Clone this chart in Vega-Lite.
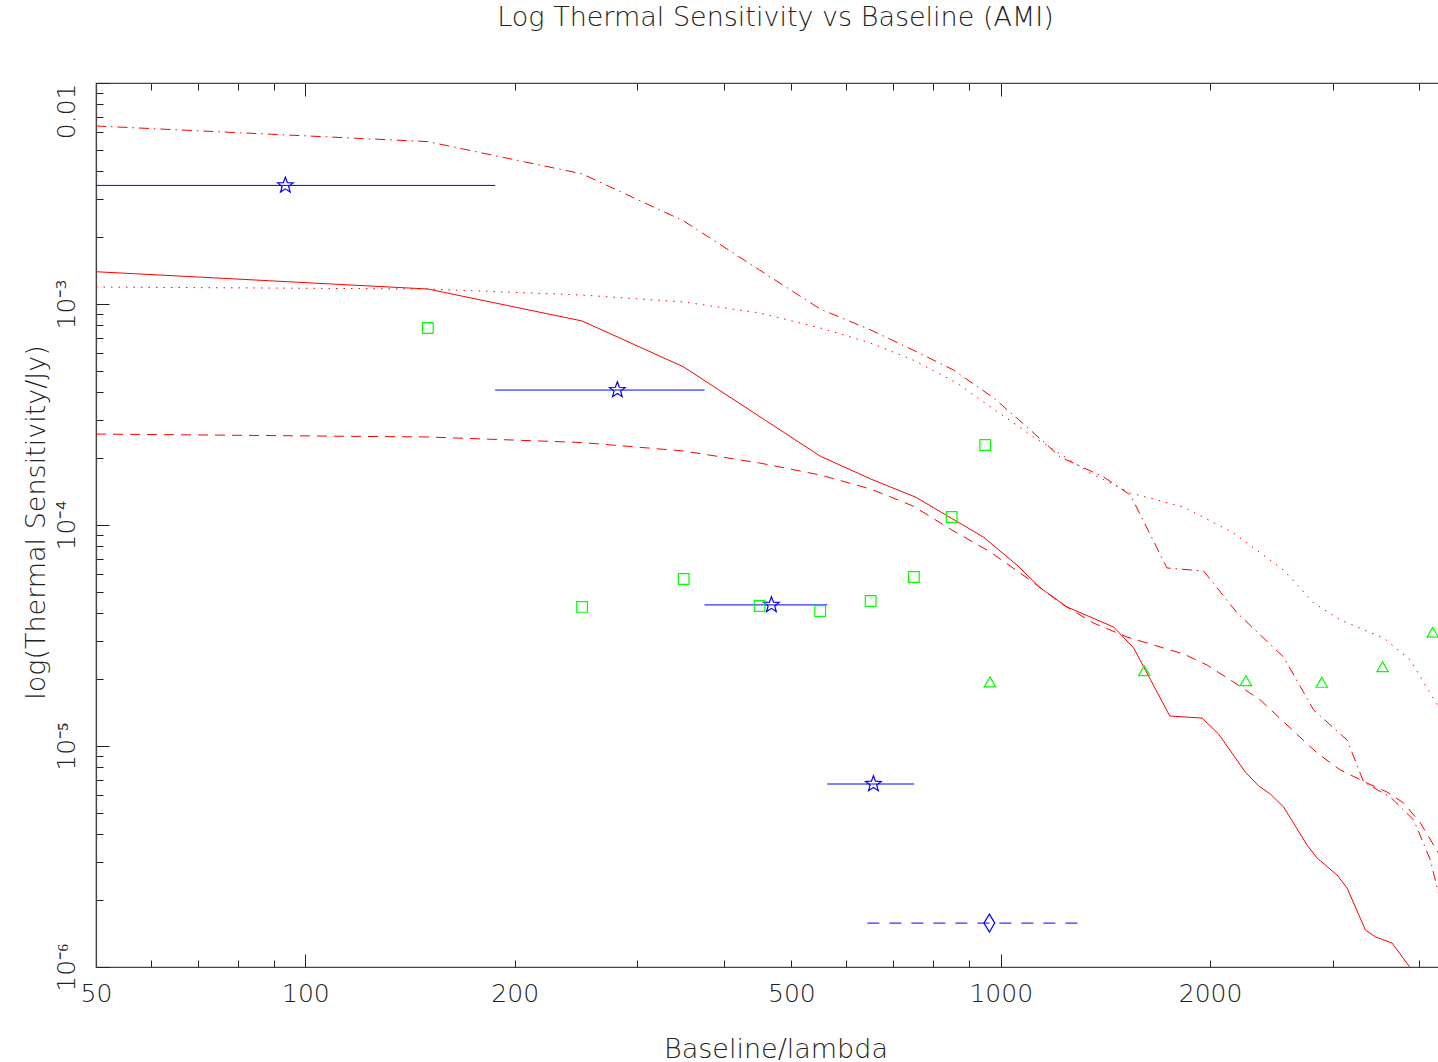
{
  "$schema": "https://vega.github.io/schema/vega-lite/v6.json",
  "autosize": {"type": "none"},
  "width": 1359,
  "height": 884,
  "padding": {"left": 96, "top": 83, "right": 0, "bottom": 95},
  "background": "white",
  "title": {
    "text": "Log Thermal Sensitivity vs Baseline (AMI)",
    "anchor": "middle",
    "frame": "group",
    "offset": 30,
    "baseline": "alphabetic",
    "font": "DejaVu Sans",
    "fontSize": 27,
    "fontWeight": 200,
    "color": "#222222"
  },
  "config": {
    "view": {"stroke": "#444444", "strokeWidth": 1.2},
    "axis": {
      "grid": false,
      "domainColor": "#444444",
      "domainWidth": 1.2,
      "tickColor": "#222222",
      "tickWidth": 1,
      "labelFont": "DejaVu Sans",
      "labelFontWeight": 200,
      "labelFontSize": 25,
      "labelColor": "#222222",
      "labelOverlap": false,
      "labelFlush": false,
      "titleFont": "DejaVu Sans",
      "titleFontWeight": 200,
      "titleFontSize": 27,
      "titleColor": "#222222"
    }
  },
  "datasets": {
    "curves": [
      {"model": "solid", "baseline": 50, "sens": 1.40e-3},
      {"model": "solid", "baseline": 150, "sens": 1.169e-3},
      {"model": "solid", "baseline": 250, "sens": 8.38e-4},
      {"model": "solid", "baseline": 350, "sens": 5.19e-4},
      {"model": "solid", "baseline": 550, "sens": 2.05e-4},
      {"model": "solid", "baseline": 650, "sens": 1.615e-4},
      {"model": "solid", "baseline": 754, "sens": 1.338e-4},
      {"model": "solid", "baseline": 944, "sens": 8.82e-5},
      {"model": "solid", "baseline": 1055, "sens": 6.59e-5},
      {"model": "solid", "baseline": 1140, "sens": 5.19e-5},
      {"model": "solid", "baseline": 1245, "sens": 4.26e-5},
      {"model": "solid", "baseline": 1453, "sens": 3.455e-5},
      {"model": "solid", "baseline": 1553, "sens": 2.776e-5},
      {"model": "solid", "baseline": 1750, "sens": 1.367e-5},
      {"model": "solid", "baseline": 1948, "sens": 1.338e-5},
      {"model": "solid", "baseline": 2057, "sens": 1.133e-5},
      {"model": "solid", "baseline": 2247, "sens": 7.63e-6},
      {"model": "solid", "baseline": 2349, "sens": 6.59e-6},
      {"model": "solid", "baseline": 2442, "sens": 6.06e-6},
      {"model": "solid", "baseline": 2551, "sens": 5.30e-6},
      {"model": "solid", "baseline": 2757, "sens": 3.565e-6},
      {"model": "solid", "baseline": 2850, "sens": 3.113e-6},
      {"model": "solid", "baseline": 3045, "sens": 2.608e-6},
      {"model": "solid", "baseline": 3148, "sens": 2.278e-6},
      {"model": "solid", "baseline": 3345, "sens": 1.47e-6},
      {"model": "solid", "baseline": 3458, "sens": 1.367e-6},
      {"model": "solid", "baseline": 3653, "sens": 1.284e-6},
      {"model": "solid", "baseline": 3882, "sens": 9.9e-7},
      {"model": "solid", "baseline": 3987, "sens": 7.47e-7},

      {"model": "dashed", "baseline": 50, "sens": 2.58e-4},
      {"model": "dashed", "baseline": 150, "sens": 2.502e-4},
      {"model": "dashed", "baseline": 250, "sens": 2.362e-4},
      {"model": "dashed", "baseline": 350, "sens": 2.162e-4},
      {"model": "dashed", "baseline": 450, "sens": 1.908e-4},
      {"model": "dashed", "baseline": 550, "sens": 1.684e-4},
      {"model": "dashed", "baseline": 650, "sens": 1.455e-4},
      {"model": "dashed", "baseline": 748, "sens": 1.219e-4},
      {"model": "dashed", "baseline": 846, "sens": 9.59e-5},
      {"model": "dashed", "baseline": 966, "sens": 7.55e-5},
      {"model": "dashed", "baseline": 1091, "sens": 5.76e-5},
      {"model": "dashed", "baseline": 1231, "sens": 4.345e-5},
      {"model": "dashed", "baseline": 1360, "sens": 3.60e-5},
      {"model": "dashed", "baseline": 1519, "sens": 3.113e-5},
      {"model": "dashed", "baseline": 1832, "sens": 2.608e-5},
      {"model": "dashed", "baseline": 1980, "sens": 2.325e-5},
      {"model": "dashed", "baseline": 2161, "sens": 1.948e-5},
      {"model": "dashed", "baseline": 2362, "sens": 1.615e-5},
      {"model": "dashed", "baseline": 2580, "sens": 1.245e-5},
      {"model": "dashed", "baseline": 2850, "sens": 9.30e-6},
      {"model": "dashed", "baseline": 3078, "sens": 7.79e-6},
      {"model": "dashed", "baseline": 3363, "sens": 6.80e-6},
      {"model": "dashed", "baseline": 3593, "sens": 6.19e-6},
      {"model": "dashed", "baseline": 3797, "sens": 5.52e-6},
      {"model": "dashed", "baseline": 4013, "sens": 4.48e-6},
      {"model": "dashed", "baseline": 4259, "sens": 3.28e-6},
      {"model": "dashed", "baseline": 4505, "sens": 2.475e-6},

      {"model": "dotted", "baseline": 50, "sens": 1.194e-3},
      {"model": "dotted", "baseline": 150, "sens": 1.169e-3},
      {"model": "dotted", "baseline": 250, "sens": 1.098e-3},
      {"model": "dotted", "baseline": 350, "sens": 1.021e-3},
      {"model": "dotted", "baseline": 450, "sens": 9.11e-4},
      {"model": "dotted", "baseline": 550, "sens": 7.79e-4},
      {"model": "dotted", "baseline": 650, "sens": 6.66e-4},
      {"model": "dotted", "baseline": 748, "sens": 5.58e-4},
      {"model": "dotted", "baseline": 865, "sens": 4.39e-4},
      {"model": "dotted", "baseline": 945, "sens": 3.60e-4},
      {"model": "dotted", "baseline": 1115, "sens": 2.50e-4},
      {"model": "dotted", "baseline": 1345, "sens": 1.719e-4},
      {"model": "dotted", "baseline": 1536, "sens": 1.396e-4},
      {"model": "dotted", "baseline": 1832, "sens": 1.206e-4},
      {"model": "dotted", "baseline": 2161, "sens": 9.20e-5},
      {"model": "dotted", "baseline": 2551, "sens": 6.26e-5},
      {"model": "dotted", "baseline": 2818, "sens": 4.44e-5},
      {"model": "dotted", "baseline": 3078, "sens": 3.72e-5},
      {"model": "dotted", "baseline": 3553, "sens": 3.08e-5},
      {"model": "dotted", "baseline": 3882, "sens": 2.448e-5},
      {"model": "dotted", "baseline": 4259, "sens": 1.501e-5},
      {"model": "dotted", "baseline": 4505, "sens": 1.121e-5},

      {"model": "dashdot", "baseline": 50, "sens": 6.39e-3},
      {"model": "dashdot", "baseline": 150, "sens": 5.43e-3},
      {"model": "dashdot", "baseline": 250, "sens": 3.88e-3},
      {"model": "dashdot", "baseline": 350, "sens": 2.375e-3},
      {"model": "dashdot", "baseline": 450, "sens": 1.425e-3},
      {"model": "dashdot", "baseline": 550, "sens": 9.49e-4},
      {"model": "dashdot", "baseline": 650, "sens": 7.63e-4},
      {"model": "dashdot", "baseline": 748, "sens": 6.19e-4},
      {"model": "dashdot", "baseline": 855, "sens": 5.03e-4},
      {"model": "dashdot", "baseline": 977, "sens": 3.755e-4},
      {"model": "dashdot", "baseline": 1091, "sens": 2.776e-4},
      {"model": "dashdot", "baseline": 1218, "sens": 2.031e-4},
      {"model": "dashdot", "baseline": 1406, "sens": 1.649e-4},
      {"model": "dashdot", "baseline": 1536, "sens": 1.367e-4},
      {"model": "dashdot", "baseline": 1734, "sens": 6.39e-5},
      {"model": "dashdot", "baseline": 1958, "sens": 6.19e-5},
      {"model": "dashdot", "baseline": 2187, "sens": 4.00e-5},
      {"model": "dashdot", "baseline": 2551, "sens": 2.527e-5},
      {"model": "dashdot", "baseline": 2818, "sens": 1.455e-5},
      {"model": "dashdot", "baseline": 3148, "sens": 1.064e-5},
      {"model": "dashdot", "baseline": 3326, "sens": 6.87e-6},
      {"model": "dashdot", "baseline": 3632, "sens": 5.88e-6},
      {"model": "dashdot", "baseline": 3924, "sens": 4.63e-6},
      {"model": "dashdot", "baseline": 4148, "sens": 3.05e-6},
      {"model": "dashdot", "baseline": 4259, "sens": 2.162e-6},
      {"model": "dashdot", "baseline": 4505, "sens": 1.47e-6}
    ],
    "bars": [
      {"lo": 46.875, "hi": 187.5, "sens": 3.44e-3, "style": "solid"},
      {"lo": 187.5, "hi": 375, "sens": 4.08e-4, "style": "solid"},
      {"lo": 375, "hi": 563, "sens": 4.35e-5, "style": "solid"},
      {"lo": 563, "hi": 751, "sens": 6.73e-6, "style": "solid"},
      {"lo": 643, "hi": 1289, "sens": 1.58e-6, "style": "dashed"}
    ],
    "points": [
      {"kind": "star", "baseline": 93.6, "sens": 3.44e-3},
      {"kind": "star", "baseline": 281, "sens": 4.08e-4},
      {"kind": "star", "baseline": 468, "sens": 4.35e-5},
      {"kind": "star", "baseline": 656, "sens": 6.73e-6},
      {"kind": "diamond", "baseline": 963, "sens": 1.58e-6},
      {"kind": "square", "baseline": 150, "sens": 7.79e-4},
      {"kind": "square", "baseline": 250, "sens": 4.26e-5},
      {"kind": "square", "baseline": 350, "sens": 5.70e-5},
      {"kind": "square", "baseline": 450, "sens": 4.30e-5},
      {"kind": "square", "baseline": 550, "sens": 4.08e-5},
      {"kind": "square", "baseline": 650, "sens": 4.53e-5},
      {"kind": "square", "baseline": 750, "sens": 5.82e-5},
      {"kind": "square", "baseline": 850, "sens": 1.087e-4},
      {"kind": "square", "baseline": 950, "sens": 2.30e-4},
      {"kind": "triangle", "baseline": 965, "sens": 1.948e-5},
      {"kind": "triangle", "baseline": 1608, "sens": 2.19e-5},
      {"kind": "triangle", "baseline": 2252, "sens": 1.975e-5},
      {"kind": "triangle", "baseline": 2895, "sens": 1.942e-5},
      {"kind": "triangle", "baseline": 3540, "sens": 2.285e-5},
      {"kind": "triangle", "baseline": 4180, "sens": 3.27e-5}
    ]
  },
  "resolve": {"axis": {"x": "independent"}},
  "layer": [
    {
      "data": {"name": "curves"},
      "transform": [{"filter": "datum.model == 'solid'"}],
      "mark": {"type": "line", "color": "#ff0000", "strokeWidth": 1, "clip": true},
      "encoding": {
        "x": {
          "field": "baseline",
          "type": "quantitative",
          "scale": {"type": "log", "domain": [50, 4500], "nice": false},
          "axis": {
            "orient": "bottom",
            "values": [50, 60, 70, 80, 90, 100, 200, 300, 400, 500, 600, 700, 800, 900, 1000, 2000, 3000, 4000],
            "labelExpr": "indexof([50, 100, 200, 500, 1000, 2000], datum.value) >= 0 ? '' + datum.value : ''",
            "tickSize": {"condition": {"test": "datum.value == 100 || datum.value == 1000", "value": -13}, "value": -7},
            "labelPadding": {"condition": {"test": "datum.value == 100 || datum.value == 1000", "value": 27}, "value": 21},
            "title": "Baseline/lambda",
            "titleX": 679.5,
            "titleY": 90,
            "titleBaseline": "alphabetic"
          }
        },
        "y": {
          "field": "sens",
          "type": "quantitative",
          "scale": {"type": "log", "domain": [0.000001, 0.01], "nice": false},
          "axis": {
            "orient": "left",
            "values": [0.000001, 0.000002, 0.000003, 0.000004, 0.000005, 0.000006, 0.000007, 0.000008, 0.000009,
                       0.00001, 0.00002, 0.00003, 0.00004, 0.00005, 0.00006, 0.00007, 0.00008, 0.00009,
                       0.0001, 0.0002, 0.0003, 0.0004, 0.0005, 0.0006, 0.0007, 0.0008, 0.0009,
                       0.001, 0.002, 0.003, 0.004, 0.005, 0.006, 0.007, 0.008, 0.009, 0.01],
            "labelExpr": "abs(datum.value / pow(10, round(log(datum.value) / LN10)) - 1) < 0.01 ? (datum.value > 0.005 ? '0.01' : '10' + ['', '', '', '⁻³', '⁻⁴', '⁻⁵', '⁻⁶'][-round(log(datum.value) / LN10)]) : ''",
            "tickSize": {"condition": {"test": "abs(datum.value / pow(10, round(log(datum.value) / LN10)) - 1) < 0.01", "value": -13}, "value": -7},
            "labelPadding": {"condition": {"test": "abs(datum.value / pow(10, round(log(datum.value) / LN10)) - 1) < 0.01", "value": 30}, "value": 24},
            "labelAngle": -90,
            "labelAlign": {"condition": {"test": "datum.value > 0.005", "value": "right"}, "value": "center"},
            "title": "log(Thermal Sensitivity/Jy)",
            "titleX": -52,
            "titleY": 439,
            "titleBaseline": "alphabetic"
          }
        }
      }
    },
    {
      "data": {"name": "curves"},
      "transform": [{"filter": "datum.model == 'dashed'"}],
      "mark": {"type": "line", "color": "#ff0000", "strokeWidth": 1, "strokeDash": [10, 7], "clip": true},
      "encoding": {
        "x": {"field": "baseline", "type": "quantitative", "axis": null},
        "y": {"field": "sens", "type": "quantitative"}
      }
    },
    {
      "data": {"name": "curves"},
      "transform": [{"filter": "datum.model == 'dotted'"}],
      "mark": {"type": "line", "color": "#ff0000", "strokeWidth": 1, "strokeDash": [1.5, 6], "clip": true},
      "encoding": {
        "x": {"field": "baseline", "type": "quantitative", "axis": null},
        "y": {"field": "sens", "type": "quantitative"}
      }
    },
    {
      "data": {"name": "curves"},
      "transform": [{"filter": "datum.model == 'dashdot'"}],
      "mark": {"type": "line", "color": "#ff0000", "strokeWidth": 1, "strokeDash": [10, 5, 1.5, 5], "clip": true},
      "encoding": {
        "x": {"field": "baseline", "type": "quantitative", "axis": null},
        "y": {"field": "sens", "type": "quantitative"}
      }
    },
    {
      "data": {"name": "bars"},
      "transform": [{"filter": "datum.style == 'solid'"}],
      "mark": {"type": "rule", "color": "#0000ff", "strokeWidth": 1, "clip": true},
      "encoding": {
        "x": {
          "field": "lo",
          "type": "quantitative",
          "axis": {
            "orient": "top",
            "values": [50, 60, 70, 80, 90, 100, 200, 300, 400, 500, 600, 700, 800, 900, 1000, 2000, 3000, 4000],
            "labels": false,
            "title": null,
            "tickSize": {"condition": {"test": "datum.value == 100 || datum.value == 1000", "value": -13}, "value": -7}
          }
        },
        "x2": {"field": "hi"},
        "y": {"field": "sens", "type": "quantitative"}
      }
    },
    {
      "data": {"name": "bars"},
      "transform": [{"filter": "datum.style == 'dashed'"}],
      "mark": {"type": "rule", "color": "#0000ff", "strokeWidth": 1, "strokeDash": [12, 10], "clip": true},
      "encoding": {
        "x": {"field": "lo", "type": "quantitative", "axis": null},
        "x2": {"field": "hi"},
        "y": {"field": "sens", "type": "quantitative"}
      }
    },
    {
      "data": {"name": "points"},
      "transform": [{"filter": "datum.kind == 'star'"}],
      "mark": {
        "type": "point",
        "shape": "M0,-1L0.247,-0.34L0.951,-0.309L0.4,0.13L0.588,0.809L0,0.42L-0.588,0.809L-0.4,0.13L-0.951,-0.309L-0.247,-0.34Z",
        "filled": false, "color": "#0000ff", "size": 270, "strokeWidth": 1.2, "opacity": 1
      },
      "encoding": {
        "x": {"field": "baseline", "type": "quantitative", "axis": null},
        "y": {"field": "sens", "type": "quantitative"}
      }
    },
    {
      "data": {"name": "points"},
      "transform": [{"filter": "datum.kind == 'square'"}],
      "mark": {"type": "point", "shape": "square", "filled": false, "color": "#00ff00", "size": 115, "strokeWidth": 1.2, "opacity": 1},
      "encoding": {
        "x": {"field": "baseline", "type": "quantitative", "axis": null},
        "y": {"field": "sens", "type": "quantitative"}
      }
    },
    {
      "data": {"name": "points"},
      "transform": [{"filter": "datum.kind == 'triangle'"}],
      "mark": {"type": "point", "shape": "triangle-up", "filled": false, "color": "#00ff00", "size": 130, "strokeWidth": 1.2, "opacity": 1},
      "encoding": {
        "x": {"field": "baseline", "type": "quantitative", "axis": null},
        "y": {"field": "sens", "type": "quantitative"}
      }
    },
    {
      "data": {"name": "points"},
      "transform": [{"filter": "datum.kind == 'diamond'"}],
      "mark": {"type": "point", "shape": "M0,-1L0.6,0L0,1L-0.6,0Z", "filled": false, "color": "#0000ff", "size": 324, "strokeWidth": 1.2, "opacity": 1},
      "encoding": {
        "x": {"field": "baseline", "type": "quantitative", "axis": null},
        "y": {"field": "sens", "type": "quantitative"}
      }
    }
  ]
}
